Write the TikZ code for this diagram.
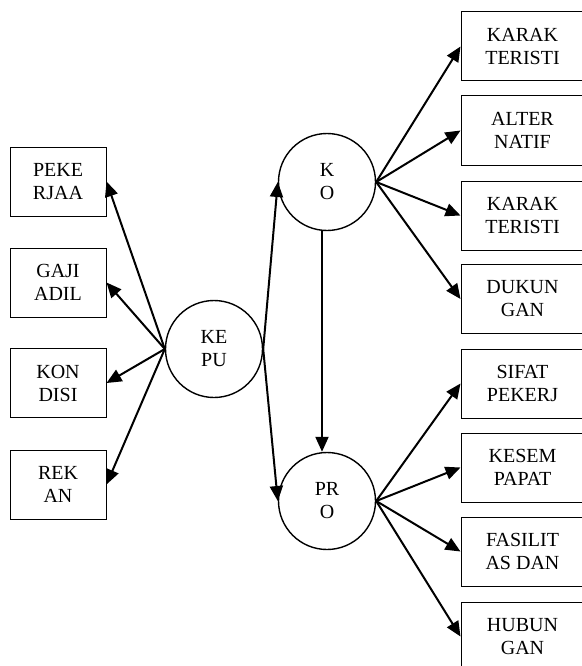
\documentclass[tikz,border=0pt]{standalone}
\usepackage{fontspec}
\setmainfont{Liberation Serif}
\usetikzlibrary{arrows.meta}
\begin{document}
\begin{tikzpicture}[x=1pt,y=-1pt,
  lbl/.style={font=\fontsize{20}{23}\selectfont, align=center},
  box/.style={lbl, draw, line width=1pt, minimum width=96pt, minimum height=69pt, inner sep=0pt},
  rbox/.style={box, minimum width=123pt},
  circ/.style={lbl, draw, circle, line width=1.4pt, minimum size=97pt, inner sep=0pt},
  arr/.style={-{Triangle[length=15pt,width=13pt]}, line width=2pt}]
\useasboundingbox (0,0) rectangle (581,666);
\node[anchor=base west, font=\fontsize{31}{31}\selectfont\bfseries, inner sep=0pt] (title) at (109,-12) {Kerangka Konseptual};
% left boxes
\node[box] (l1) at (58,181.5) {PEKE\\RJAA};
\node[box] (l2) at (58,282.5) {GAJI\\ADIL};
\node[box] (l3) at (58,383) {KON\\DISI};
\node[box] (l4) at (58,484.5) {REK\\AN};
% circles
\node[circ] (kepu) at (214,349) {KE\\PU};
\node[circ] (ko) at (327,182) {K\\O};
\node[circ] (pro) at (327,501) {PR\\O};
% right boxes
\node[rbox] (r1) at (522.5,46.5) {KARAK\\TERISTI};
\node[rbox] (r2) at (522.5,130.5) {ALTER\\NATIF};
\node[rbox] (r3) at (522.5,215.5) {KARAK\\TERISTI};
\node[rbox] (r4) at (522.5,299) {DUKUN\\GAN};
\node[rbox] (r5) at (522.5,383.5) {SIFAT\\PEKERJ};
\node[rbox] (r6) at (522.5,467.5) {KESEM\\PAPAT};
\node[rbox] (r7) at (522.5,551.5) {FASILIT\\AS DAN};
\node[rbox] (r8) at (522.5,636.5) {HUBUN\\GAN};
% connectors
\foreach \t in {l1,l2,l3,l4} \draw[arr] (kepu.west) -- (\t.east);
\draw[arr] (kepu.east) -- (ko.west);
\draw[arr] (kepu.east) -- (pro.west);
\draw[arr] ([xshift=-5pt]ko.south) -- ([xshift=-5pt]pro.north);
\foreach \t in {r1,r2,r3,r4} \draw[arr] (ko.east) -- (\t.west);
\foreach \t in {r5,r6,r7,r8} \draw[arr] (pro.east) -- (\t.west);
\end{tikzpicture}
\end{document}
